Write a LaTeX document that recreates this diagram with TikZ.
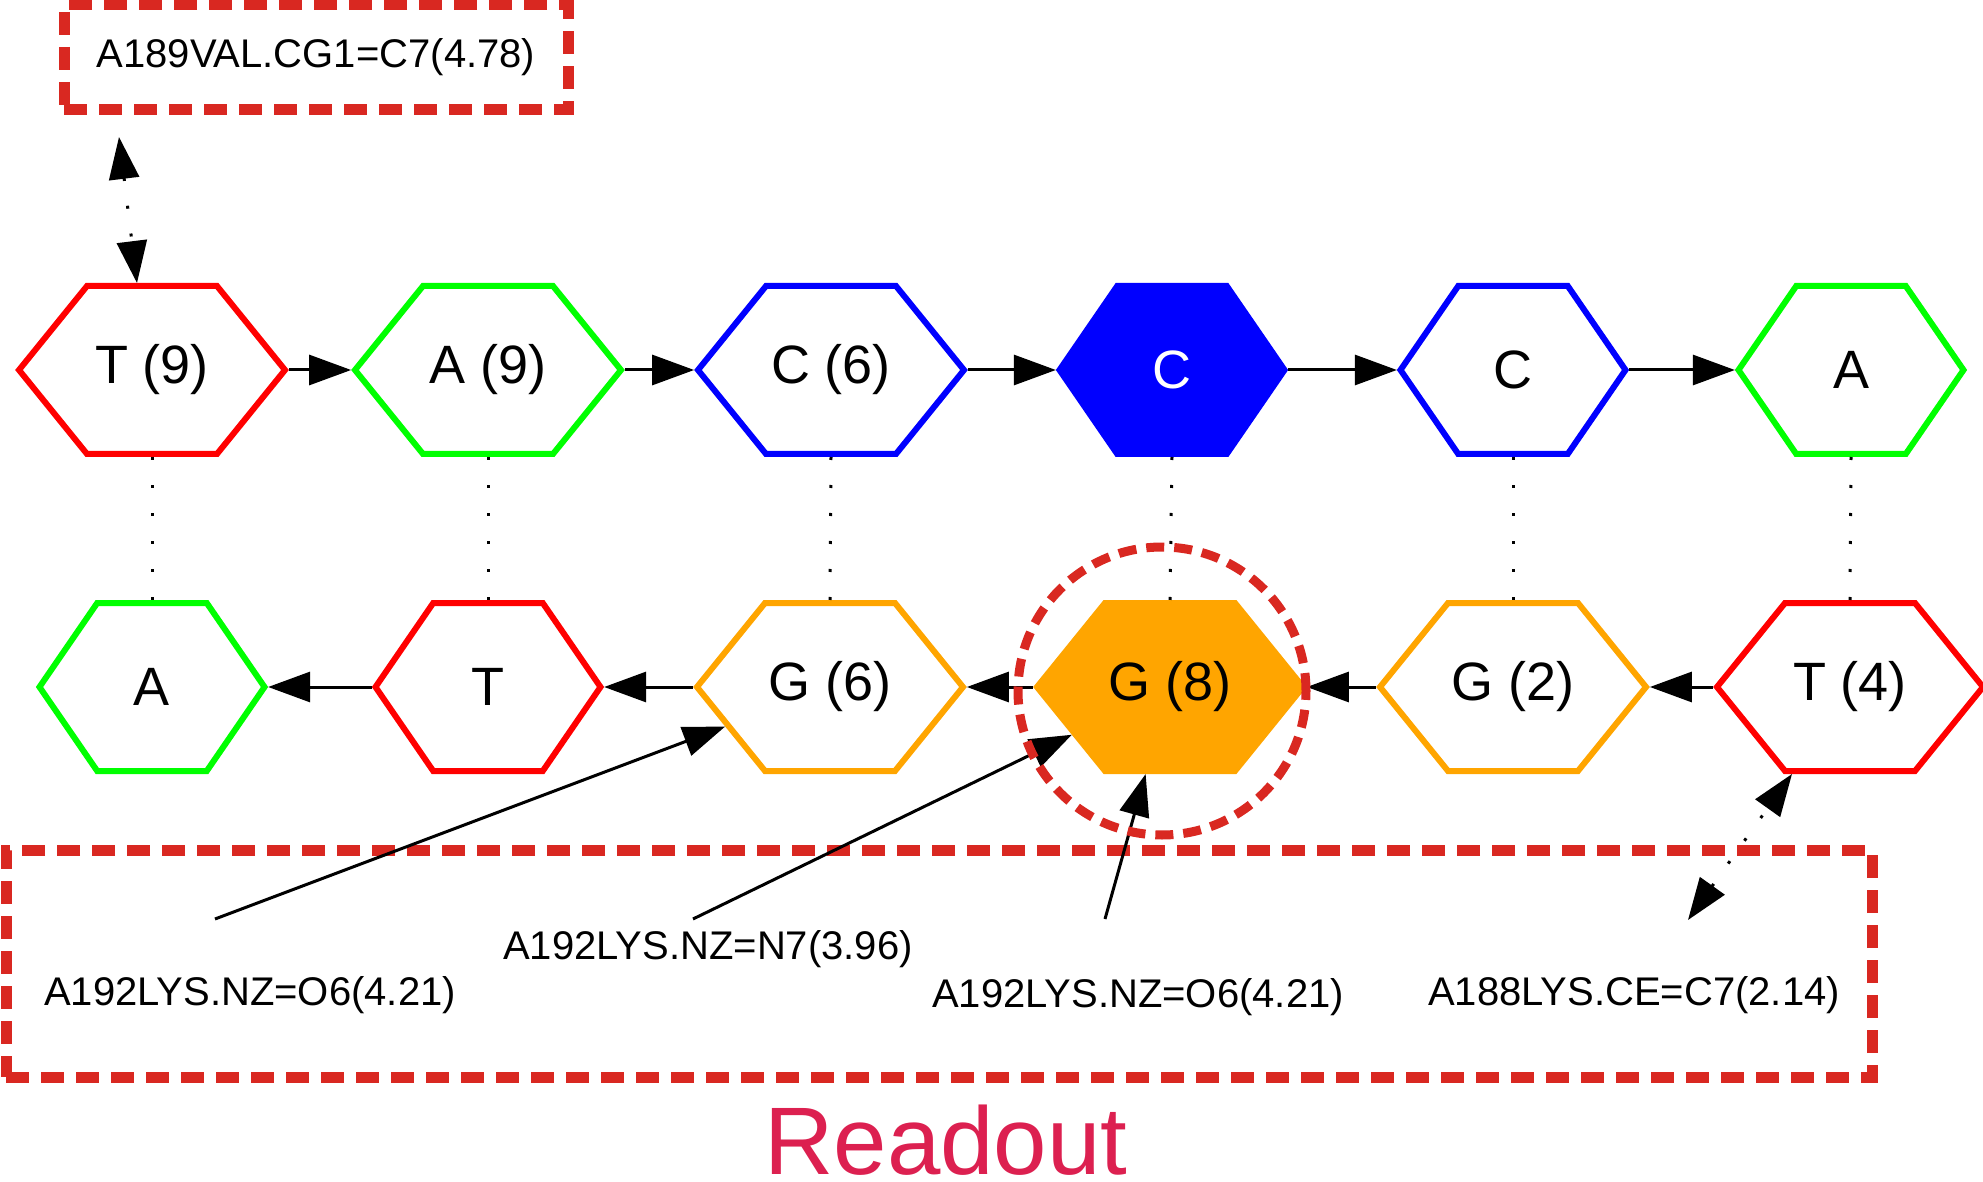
\documentclass[tikz,border=0pt]{standalone}
\usepackage{fontspec}
\setmainfont{Liberation Sans}
\usepackage{xcolor}
\usepackage{tikz}
\usetikzlibrary{arrows.meta,shapes.symbols}
\definecolor{red}{HTML}{FF0000}
\definecolor{green}{HTML}{00FF00}
\definecolor{blue}{HTML}{0000FF}
\definecolor{orange}{HTML}{FFA500}
\definecolor{box}{HTML}{D92821}
\definecolor{title}{HTML}{DC2050}

\begin{document}
\begin{tikzpicture}[
  x=0.5pt, y=-0.5pt,
  base/.style={signal, signal to=east and west, minimum height=84pt, inner sep=0pt, line width=3pt, font=\fontsize{27}{32}\selectfont},
  wide/.style={base, signal pointer angle=102, minimum width=133pt},
  slim/.style={base, signal pointer angle=111, minimum width=112.5pt},
  arr/.style={-{Triangle[length=21pt, width=15pt]}, line width=1.5pt},
  pair/.style={line width=1.5pt, dash pattern=on 1.5pt off 12.5pt},
  dotarr/.style={{Triangle[length=21pt, width=15pt]}-{Triangle[length=21pt, width=15pt]}, pair},
  hitbox/.style={draw=box, line width=5.5pt, dash pattern=on 11.5pt off 6pt},
  contact/.style={font=\fontsize{20}{24}\selectfont, inner sep=0pt}
]
\useasboundingbox (0,0) rectangle (1983,1182);

\node[wide, draw=red] (u1) at (152,370) {T (9)};
\node[wide, draw=green] (u2) at (488,370) {A (9)};
\node[wide, draw=blue] (u3) at (831,370) {C (6)};
\node[slim, draw=blue, fill=blue, text=white] (u4) at (1172,370) {C};
\node[slim, draw=blue] (u5) at (1513,370) {C};
\node[slim, draw=green] (u6) at (1851,370) {A};

\node[slim, draw=green] (l1) at (152,687) {A};
\node[slim, draw=red] (l2) at (488,687) {T};
\node[wide, draw=orange] (l3) at (830,687) {G (6)};
\node[wide, draw=orange, fill=orange] (l4) at (1170,687) {G (8)};
\node[wide, draw=orange] (l5) at (1513,687) {G (2)};
\node[wide, draw=red] (l6) at (1850,687) {T (4)};

\node[hitbox, contact, minimum width=252pt, minimum height=52.5pt] (val) at (316,57.5) {A189VAL.CG1=C7(4.78)};
\node[hitbox, minimum width=933pt, minimum height=113.5pt] (zone) at (939,963.5) {};

\node[contact] (k1) at (250,995) {A192LYS.NZ=O6(4.21)};
\node[contact] (k2) at (708,949) {A192LYS.NZ=N7(3.96)};
\node[contact] (k3) at (1138,997) {A192LYS.NZ=O6(4.21)};
\node[contact] (k4) at (1634,995) {A188LYS.CE=C7(2.14)};
\node[text=title, font=\fontsize{48}{56}\selectfont, inner sep=0pt] (ro) at (946,1140) {Readout};

\coordinate (e0) at (119,137);
\coordinate (e1) at (215,919);
\coordinate (e2) at (693,919);
\coordinate (e3) at (1105,919);
\coordinate (e4) at (1688,920);

\draw[arr] (u1.east) -- (u2.west);
\draw[arr] (u2.east) -- (u3.west);
\draw[arr] (u3.east) -- (u4.west);
\draw[arr] (u4.east) -- (u5.west);
\draw[arr] (u5.east) -- (u6.west);
\draw[arr] (l6.west) -- (l5.east);
\draw[arr] (l5.west) -- (l4.east);
\draw[arr] (l4.west) -- (l3.east);
\draw[arr] (l3.west) -- (l2.east);
\draw[arr] (l2.west) -- (l1.east);

\draw[pair] (u1.south) -- (l1.north);
\draw[pair] (u2.south) -- (l2.north);
\draw[pair] (u3.south) -- (l3.north);
\draw[pair] (u4.south) -- (l4.north);
\draw[pair] (u5.south) -- (l5.north);
\draw[pair] (u6.south) -- (l6.north);

\draw[arr] (e1) -- (l3);
\draw[arr] (e2) -- (l4);
\draw[arr] (e3) -- (l4);
\draw[dotarr] (e0) -- ([xshift=-7.5pt]u1.north);
\draw[dotarr] (e4) -- ([xshift=-29pt]l6.south);

\node[draw=box, circle, line width=4.5pt, dash pattern=on 9pt off 5pt, minimum size=144pt] (ring) at (1162,691) {};
\end{tikzpicture}
\end{document}
